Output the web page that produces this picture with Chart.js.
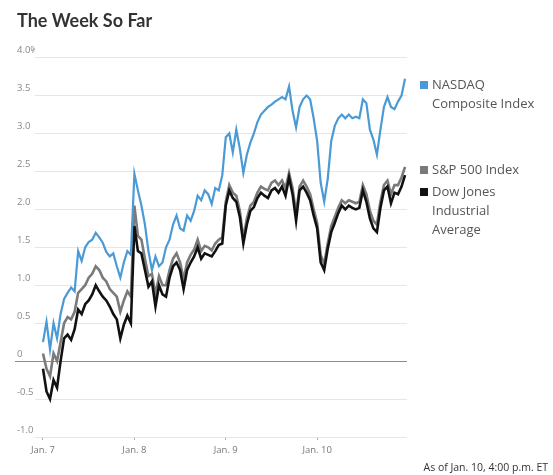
<!DOCTYPE html>
<html>
<head>
<meta charset="utf-8">
<script src="https://cdn.jsdelivr.net/npm/chart.js@4"></script>
<style>
  body { margin: 0; background: #fff; }
  #wrap { position: relative; width: 553px; height: 475px; font-family: "Open Sans", sans-serif; }
  .leg { position: absolute; left: 432px; font-size: 13px; line-height: 19px; color: #555; }
  .sq { position: absolute; left: -12px; top: 6px; width: 8px; height: 8px; }
  #note { position: absolute; right: 5px; top: 460px; font-size: 10.5px; color: #333; }
</style>
</head>
<body>
<div id="wrap">
  <canvas id="c" width="553" height="475"></canvas>
  <div class="leg" style="top:75px"><span class="sq" style="background:#4a9ad6"></span>NASDAQ<br>Composite Index</div>
  <div class="leg" style="top:160px"><span class="sq" style="background:#7a7a7a"></span>S&amp;P 500 Index</div>
  <div class="leg" style="top:182px"><span class="sq" style="background:#111"></span>Dow Jones<br>Industrial<br>Average</div>
  <div id="note">As of Jan. 10, 4:00 p.m. ET</div>
</div>
<script>
const days = ['Jan. 7', 'Jan. 8', 'Jan. 9', 'Jan. 10'];
const slotsPerDay = 26;

// percent change, 15-minute steps, Jan 7 .. Jan 10
const nasdaq = [
  0.25, 0.52, 0.15, 0.5, 0.3, 0.62, 0.82, 0.9, 0.97, 0.92, 1.45, 1.32, 1.5, 1.57, 1.6, 1.69, 1.63, 1.56, 1.44, 1.38, 1.42, 1.25, 1.1, 1.3, 1.45, 1.4,
  2.47, 2.25, 2.05, 1.8, 1.45, 1.2, 1.38, 1.25, 1.3, 1.5, 1.6, 1.8, 1.92, 1.75, 1.72, 1.92, 1.85, 1.98, 2.18, 2.12, 2.25, 2.2, 2.07, 2.28, 2.25, 2.45,
  2.95, 3.0, 2.75, 3.05, 2.8, 2.48, 2.72, 2.88, 3.0, 3.15, 3.25, 3.3, 3.35, 3.38, 3.42, 3.45, 3.48, 3.45, 3.62, 3.3, 3.08, 3.35, 3.45, 3.5, 3.45, 3.2,
  2.9, 2.35, 2.1, 2.4, 2.9, 3.1, 3.2, 3.25, 3.2, 3.25, 3.2, 3.22, 3.2, 3.45, 3.4, 3.05, 2.92, 2.72, 3.05, 3.35, 3.48, 3.35, 3.32, 3.42, 3.5, 3.72
];
const sp500 = [
  0.1, -0.1, -0.2, 0.1, 0.0, 0.25, 0.5, 0.58, 0.55, 0.65, 0.9, 0.95, 1.0, 1.1, 1.15, 1.25, 1.2, 1.1, 1.05, 0.95, 0.9, 0.85, 0.65, 0.8, 0.92, 0.85,
  2.05, 1.65, 1.6, 1.35, 1.12, 1.15, 0.88, 1.12, 1.0, 1.0, 1.2, 1.35, 1.42, 1.3, 1.08, 1.3, 1.4, 1.47, 1.6, 1.45, 1.52, 1.5, 1.46, 1.55, 1.6, 1.63,
  2.1, 2.32, 2.22, 2.18, 1.98, 1.62, 1.88, 2.05, 2.1, 2.22, 2.3, 2.27, 2.25, 2.35, 2.38, 2.32, 2.38, 2.28, 2.48, 2.28, 1.95, 2.3, 2.38, 2.3, 2.2, 2.0,
  1.82, 1.4, 1.28, 1.55, 1.78, 1.9, 2.02, 2.12, 2.08, 2.12, 2.1, 2.08, 2.1, 2.32, 2.2, 1.98, 1.85, 1.8, 2.1, 2.32, 2.38, 2.2, 2.32, 2.32, 2.42, 2.56
];
const dow = [
  -0.1, -0.4, -0.5, -0.25, -0.35, 0.0, 0.3, 0.35, 0.28, 0.42, 0.68, 0.62, 0.75, 0.8, 0.88, 1.0, 0.92, 0.85, 0.8, 0.72, 0.62, 0.55, 0.3, 0.48, 0.6, 0.5,
  1.78, 1.45, 1.42, 1.2, 0.98, 1.05, 0.72, 1.0, 0.88, 0.85, 1.1, 1.25, 1.3, 1.2, 0.95, 1.2, 1.3, 1.38, 1.5, 1.35, 1.42, 1.4, 1.38, 1.45, 1.53, 1.55,
  2.05, 2.25, 2.15, 2.1, 1.9, 1.55, 1.8, 1.98, 2.03, 2.15, 2.22, 2.18, 2.15, 2.25, 2.28, 2.22, 2.3, 2.18, 2.42, 2.2, 1.85, 2.25, 2.3, 2.22, 2.12, 1.92,
  1.75, 1.3, 1.2, 1.48, 1.7, 1.82, 1.95, 2.05, 2.0, 2.05, 2.02, 2.0, 2.02, 2.25, 2.1, 1.88, 1.75, 1.7, 2.02, 2.25, 2.3, 2.08, 2.22, 2.2, 2.3, 2.45
];

const toPoints = arr => arr.map((v, i) => ({ x: i / slotsPerDay, y: v }));

// zero line reaches left under the "0" label
const zeroLine = {
  id: 'zeroLine',
  beforeDatasetsDraw(chart) {
    const { ctx, chartArea, scales } = chart;
    const y = Math.round(scales.y.getPixelForValue(0)) + 0.5;
    ctx.save();
    ctx.strokeStyle = '#8c8c8c';
    ctx.lineWidth = 1;
    ctx.beginPath();
    ctx.moveTo(15, y);
    ctx.lineTo(chartArea.right, y);
    ctx.stroke();
    ctx.restore();
  }
};

new Chart(document.getElementById('c'), {
  type: 'line',
  data: {
    datasets: [
      { label: 'NASDAQ Composite Index', data: toPoints(nasdaq), borderColor: '#4a9ad6', borderWidth: 2.2 },
      { label: 'Dow Jones Industrial Average', data: toPoints(dow), borderColor: '#111111', borderWidth: 2.6 },
      { label: 'S&P 500 Index', data: toPoints(sp500), borderColor: '#7a7a7a', borderWidth: 2.6 }
    ]
  },
  options: {
    responsive: false,
    animation: false,
    elements: { point: { radius: 0 }, line: { tension: 0 } },
    layout: { padding: { left: 17, right: 146, top: 10, bottom: 0 } },
    plugins: {
      legend: { display: false },
      tooltip: { enabled: false },
      title: {
        display: true,
        text: 'The Week So Far',
        align: 'start',
        color: '#333',
        font: { family: 'Lato', size: 18, weight: 'bold' },
        padding: { top: 0, bottom: 26 }
      }
    },
    scales: {
      x: {
        type: 'linear',
        min: -0.0875,
        max: 3.983,
        afterBuildTicks: s => { s.ticks = days.map((d, i) => ({ value: i })); },
        afterFit: s => { s.height = 38; },
        ticks: {
          callback: v => days[v],
          color: '#777',
          font: { family: 'Open Sans', size: 9.5 },
          padding: 5,
          maxRotation: 0
        },
        grid: { drawOnChartArea: false, drawTicks: true, tickLength: 3, color: '#aaa' },
        border: { display: false }
      },
      y: {
        min: -1,
        max: 4,
        afterFit: s => { s.width = 18; },
        ticks: {
          stepSize: 0.5,
          crossAlign: 'far',
          labelOffset: -7,
          padding: 0,
          color: '#888',
          font: { family: 'Open Sans', size: 9.5 },
          showLabelBackdrop: true,
          backdropColor: '#fff',
          backdropPadding: { x: 2, y: 1 },
          callback: v => v === 4 ? '4.0%' : v === 0 ? '0' : v.toFixed(1)
        },
        grid: { color: '#e6e6e6', drawTicks: false },
        border: { display: false }
      }
    }
  },
  plugins: [zeroLine]
});
</script>
</body>
</html>
